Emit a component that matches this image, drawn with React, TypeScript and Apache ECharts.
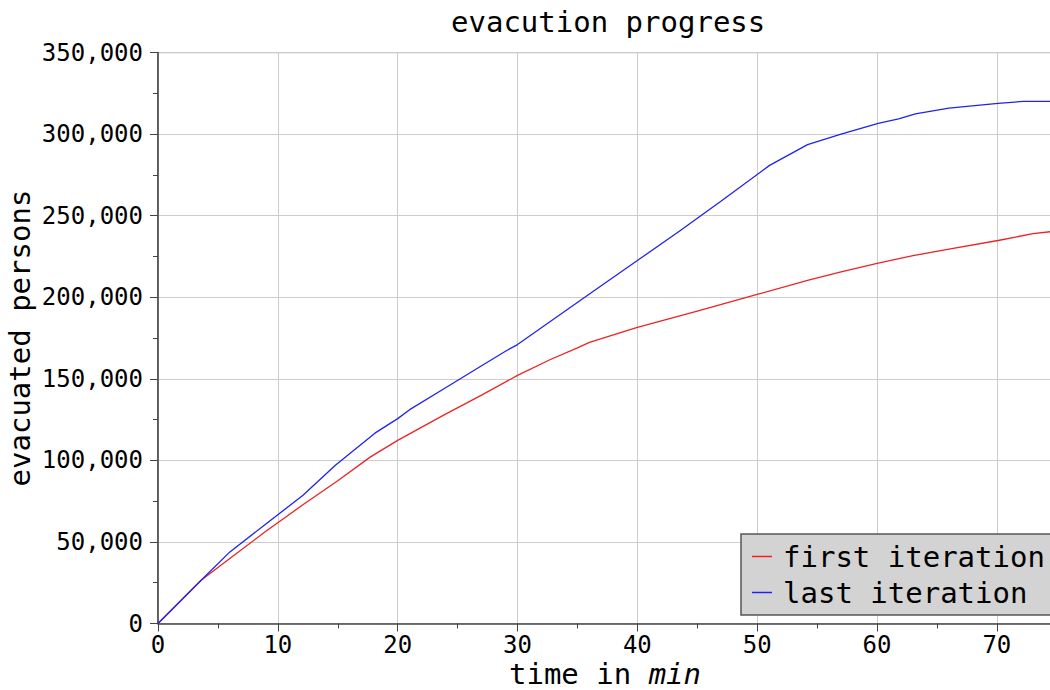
import React, { useEffect, useRef } from "react";
import * as echarts from "echarts";

const firstX = [0, 3.6, 6.1, 9, 12, 15, 17.7, 20, 23.8, 27, 30, 32.7, 35, 36, 40, 45, 50, 54.2, 57, 60.1, 63, 66, 70.1, 73, 74.6];
const firstY = [0, 26500, 40400, 56500, 72300, 87500, 102000, 112300, 127600, 140000, 152100, 161700, 169000, 172300, 181500, 191500, 201700, 210300, 215500, 220900, 225500, 229500, 234800, 239000, 240300];

const lastX = [0, 3.6, 6, 9, 12.1, 14.8, 18.1, 20, 21, 24, 27, 29.1, 30, 33, 36, 40, 43.5, 47, 51, 54.2, 57, 60.1, 61.8, 63.2, 66, 70.1, 72.2, 74.6];
const lastY = [0, 26500, 43900, 61000, 78600, 97000, 116700, 125600, 131100, 144500, 158000, 167400, 171000, 186500, 202000, 222500, 240500, 259000, 280700, 293600, 300000, 306600, 309300, 312400, 316000, 318900, 320100, 320100];

const seriesNames = ["first iteration", "last iteration"];
const titleText = "evacution progress";
const yAxisTitle = "evacuated persons";

const FONT = "DejaVu Sans Mono";

export default function App() {
  const ref = useRef<HTMLDivElement>(null);
  useEffect(() => {
    document.body.style.margin = "0";
    const chart = echarts.init(ref.current!, undefined, { renderer: "svg" });
    chart.setOption({
      animation: false,
      backgroundColor: "#ffffff",
      textStyle: { fontFamily: FONT, color: "#000" },
      title: {
        text: titleText,
        left: 446,
        top: 2,
        textStyle: { fontFamily: FONT, fontSize: 29, fontWeight: "normal", color: "#000" },
      },
      grid: {
        left: 158,
        right: -2,
        top: 52.6,
        bottom: 66.5,
        containLabel: false,
        outerBoundsMode: "none",
        show: true,
        borderColor: "#444",
        borderWidth: 1,
        backgroundColor: "transparent",
      },
      legend: {
        left: 741,
        top: 534,
        orient: "vertical",
        backgroundColor: "#d3d3d3",
        borderColor: "#555",
        borderWidth: 1.5,
        borderRadius: 0,
        padding: [8, 30, 8, 11],
        itemGap: 7,
        itemWidth: 20,
        itemHeight: 1.5,
        icon: "rect",
        textStyle: { fontFamily: FONT, fontSize: 29, lineHeight: 29, color: "#000", padding: [0, 0, 0, 6] },
        data: seriesNames,
      },
      xAxis: {
        type: "value",
        min: 0,
        max: 74.6,
        interval: 10,
        name: "time in {i|min}",
        nameLocation: "middle",
        nameGap: 36,
        nameMoveOverlap: false,
        nameTextStyle: {
          fontFamily: FONT,
          fontSize: 29,
          lineHeight: 29,
          color: "#000",
          rich: { i: { fontFamily: FONT, fontSize: 29, lineHeight: 29, fontStyle: "italic", color: "#000" } },
        },
        axisLine: { show: true, onZero: false, lineStyle: { color: "#444", width: 1.5 } },
        axisTick: { show: true, inside: false, length: 8, lineStyle: { color: "#444" } },
        minorTick: { show: true, splitNumber: 2, length: 5, lineStyle: { color: "#444" } },
        axisLabel: { fontFamily: FONT, fontSize: 24, color: "#000", margin: 9, showMaxLabel: false },
        splitLine: { show: true, lineStyle: { color: "#cccccc", width: 1 } },
      },
      yAxis: {
        type: "value",
        min: 0,
        max: 350000,
        interval: 50000,
        name: yAxisTitle,
        nameLocation: "middle",
        nameGap: 124,
        nameMoveOverlap: false,
        nameTextStyle: { fontFamily: FONT, fontSize: 29, lineHeight: 29, color: "#000" },
        axisLine: { show: true, onZero: false, lineStyle: { color: "#444", width: 1.5 } },
        axisTick: { show: true, inside: false, length: 8, lineStyle: { color: "#444" } },
        minorTick: { show: true, splitNumber: 2, length: 5, lineStyle: { color: "#444" } },
        axisLabel: {
          fontFamily: FONT,
          fontSize: 24,
          color: "#000",
          margin: 15,
          formatter: (v: number) => v.toLocaleString("en-US"),
        },
        splitLine: { show: true, lineStyle: { color: "#cccccc", width: 1 } },
      },
      series: [
        {
          name: seriesNames[0],
          type: "line",
          data: firstX.map((x, i) => [x, firstY[i]]),
          showSymbol: false,
          symbol: "none",
          lineStyle: { color: "#ee2222", width: 1.3 },
          itemStyle: { color: "#ee2222" },
        },
        {
          name: seriesNames[1],
          type: "line",
          data: lastX.map((x, i) => [x, lastY[i]]),
          showSymbol: false,
          symbol: "none",
          lineStyle: { color: "#2222ee", width: 1.3 },
          itemStyle: { color: "#2222ee" },
        },
      ],
    });
    return () => chart.dispose();
  }, []);
  return <div ref={ref} style={{ width: 1050, height: 690 }} />;
}
